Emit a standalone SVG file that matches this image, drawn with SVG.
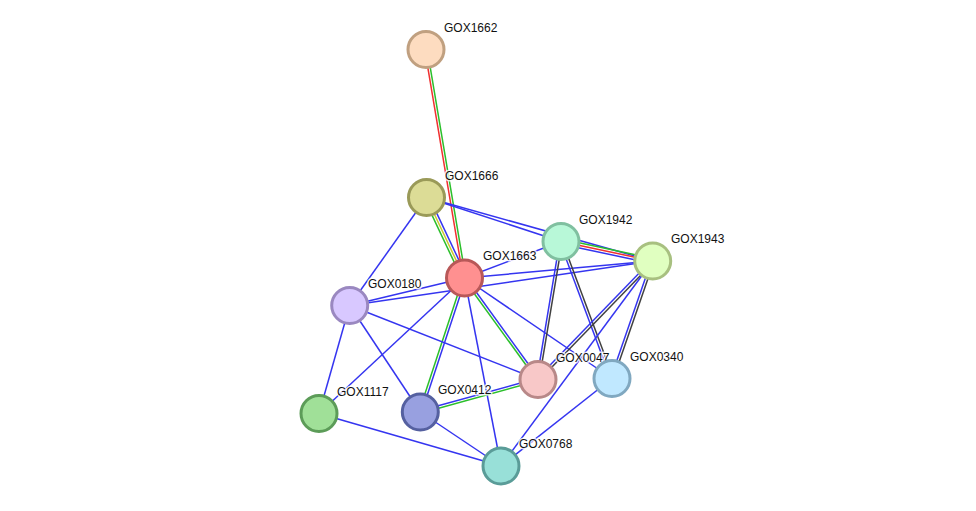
<svg xmlns="http://www.w3.org/2000/svg" width="976" height="511" viewBox="0 0 976 511">
<style>
line{stroke-width:1.5;fill:none}
.b{stroke:#3535f0}
.g{stroke:#2bbf2b}
.r{stroke:#f03030}
.y{stroke:#c8c832}
.k{stroke:#404040}
.n circle{stroke-width:3}
text{font-family:"Liberation Sans",Arial,sans-serif;font-size:12px;fill:#111;stroke:#fff;stroke-width:3;stroke-opacity:0.8;paint-order:stroke;stroke-linejoin:round}
</style>
<rect width="976" height="511" fill="#fff"/>
<g id="edges">
<line class="r" x1="424.8" y1="49.7" x2="463.3" y2="278.2"/>
<line class="g" x1="427.2" y1="49.3" x2="465.7" y2="277.8"/>
<line class="g" x1="424.2" y1="198.6" x2="462.2" y2="279.1"/>
<line class="y" x1="426.5" y1="197.5" x2="464.5" y2="278"/>
<line class="b" x1="428.8" y1="196.4" x2="466.8" y2="276.9"/>
<line class="b" x1="426.5" y1="197.5" x2="561" y2="241.5"/>
<line class="b" x1="426.5" y1="197.5" x2="652.7" y2="261"/>
<line class="g" x1="561.5" y1="239.05" x2="653.2" y2="258.55"/>
<line class="r" x1="561" y1="241.5" x2="652.7" y2="261"/>
<line class="b" x1="560.5" y1="243.95" x2="652.2" y2="263.45"/>
<line class="b" x1="464.5" y1="278" x2="561" y2="241.5"/>
<line class="b" x1="464.5" y1="278" x2="652.7" y2="261"/>
<line class="b" x1="349.7" y1="305.5" x2="652.7" y2="261"/>
<line class="b" x1="464.5" y1="278" x2="349.7" y2="305.5"/>
<line class="g" x1="463.3" y1="277.6" x2="419.1" y2="411.6"/>
<line class="b" x1="465.7" y1="278.4" x2="421.5" y2="412.4"/>
<line class="g" x1="463.5" y1="278.7" x2="537" y2="380.2"/>
<line class="b" x1="465.5" y1="277.3" x2="539" y2="378.8"/>
<line class="b" x1="464.5" y1="278" x2="501" y2="466"/>
<line class="b" x1="464.5" y1="278" x2="612" y2="378.5"/>
<line class="b" x1="464.5" y1="278" x2="319" y2="413.5"/>
<line class="b" x1="426.5" y1="197.5" x2="349.7" y2="305.5"/>
<line class="b" x1="349.7" y1="305.5" x2="319" y2="413.5"/>
<line class="b" x1="349.7" y1="305.5" x2="420.3" y2="412"/>
<line class="b" x1="349.7" y1="305.5" x2="538" y2="379.5"/>
<line class="b" x1="319" y1="413.5" x2="501" y2="466"/>
<line class="b" x1="420.3" y1="412" x2="501" y2="466"/>
<line class="b" x1="420" y1="410.8" x2="537.7" y2="378.3"/>
<line class="g" x1="420.6" y1="413.2" x2="538.3" y2="380.7"/>
<line class="b" x1="559.8" y1="241.3" x2="536.8" y2="379.3"/>
<line class="k" x1="562.2" y1="241.7" x2="539.2" y2="379.7"/>
<line class="b" x1="559.8" y1="241.9" x2="610.8" y2="378.9"/>
<line class="k" x1="562.2" y1="241.1" x2="613.2" y2="378.1"/>
<line class="b" x1="651.8" y1="260.1" x2="537.1" y2="378.6"/>
<line class="k" x1="653.6" y1="261.9" x2="538.9" y2="380.4"/>
<line class="b" x1="651.5" y1="260.6" x2="610.8" y2="378.1"/>
<line class="k" x1="653.9" y1="261.4" x2="613.2" y2="378.9"/>
<line class="b" x1="652.7" y1="261" x2="501" y2="466"/>
<line class="b" x1="612" y1="378.5" x2="501" y2="466"/>
</g>
<g id="GOX1662" class="n"><circle cx="426" cy="49.5" r="18" fill="#fddcc0" stroke="#c0a080"/><text x="444" y="32">GOX1662</text></g>
<g id="GOX1666" class="n"><circle cx="426.5" cy="197.5" r="18" fill="#dcdc96" stroke="#9a9a58"/><text x="445" y="180">GOX1666</text></g>
<g id="GOX1942" class="n"><circle cx="561" cy="241.5" r="18" fill="#b8f8d8" stroke="#80c0a0"/><text x="579" y="224">GOX1942</text></g>
<g id="GOX1943" class="n"><circle cx="652.7" cy="261" r="18" fill="#e0ffc0" stroke="#a8c080"/><text x="671" y="243">GOX1943</text></g>
<g id="GOX1663" class="n"><circle cx="464.5" cy="278" r="18" fill="#ff9090" stroke="#b85858"/><text x="483" y="260">GOX1663</text></g>
<g id="GOX0180" class="n"><circle cx="349.7" cy="305.5" r="18" fill="#d8c8ff" stroke="#9a88c0"/><text x="368" y="288">GOX0180</text></g>
<g id="GOX0047" class="n"><circle cx="538" cy="379.5" r="18" fill="#f8c8c8" stroke="#b88888"/><text x="556" y="362">GOX0047</text></g>
<g id="GOX0340" class="n"><circle cx="612" cy="378.5" r="18" fill="#c0e8ff" stroke="#80a8c0"/><text x="630" y="361">GOX0340</text></g>
<g id="GOX1117" class="n"><circle cx="319" cy="413.5" r="18" fill="#a0e098" stroke="#5c9c58"/><text x="337" y="396">GOX1117</text></g>
<g id="GOX0412" class="n"><circle cx="420.3" cy="412" r="18" fill="#98a0e0" stroke="#5560a0"/><text x="438" y="394">GOX0412</text></g>
<g id="GOX0768" class="n"><circle cx="501" cy="466" r="18" fill="#98e0d8" stroke="#5a9c98"/><text x="519" y="448">GOX0768</text></g>
</svg>
